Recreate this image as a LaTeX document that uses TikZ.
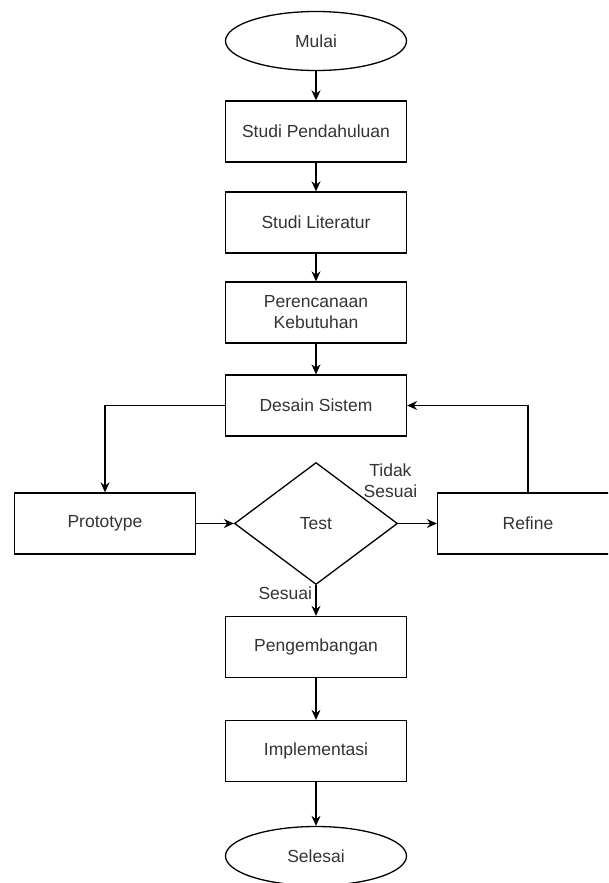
\documentclass[tikz,border=0pt]{standalone}
\usepackage{fontspec}
\setmainfont{Liberation Sans}
\usetikzlibrary{shapes,arrows.meta,positioning}

\begin{document}
\begin{tikzpicture}[x=1pt, y=-1pt, node distance=91pt, auto,
    >={Stealth[length=10pt, width=9pt]}, line width=1.3pt,
    every node/.style={font=\fontsize{17.5}{21}\selectfont, text=black!80},
    terminal/.style={draw, ellipse, minimum width=181pt, minimum height=59pt},
    proses/.style={draw, rectangle, minimum width=181pt, minimum height=61pt, align=center},
    keputusan/.style={draw, diamond, minimum width=163pt, minimum height=122pt, inner sep=0pt}]
    \clip (0,0) rectangle (608,883);
    \node [terminal] (mulai) at (316,41) {Mulai};
    \node [proses, below of=mulai, node distance=90.5pt] (pendahuluan) {Studi Pendahuluan};
    \node [proses, below of=pendahuluan] (literatur) {Studi Literatur};
    \node [proses, below of=literatur, node distance=90pt] (kebutuhan) {Perencanaan\\Kebutuhan};
    \node [proses, below of=kebutuhan, node distance=93pt] (desain) {Desain Sistem};
    \node [keputusan, below of=desain, node distance=118pt] (test) {Test};
    \node [proses, left of=test, node distance=211pt] (prototype) {Prototype};
    \node [proses, right of=test, node distance=212pt] (refine) {Refine};
    \node [proses, below of=test, node distance=123.5pt] (pengembangan) {Pengembangan};
    \node [proses, below of=pengembangan, node distance=104pt] (implementasi) {Implementasi};
    \node [terminal, below of=implementasi, node distance=105pt] (selesai) {Selesai};
    \draw [->] (mulai) -- (pendahuluan);
    \draw [->] (pendahuluan) -- (literatur);
    \draw [->] (literatur) -- (kebutuhan);
    \draw [->] (kebutuhan) -- (desain);
    \draw [->] (desain) -| (prototype);
    \draw [->] (prototype) -- (test);
    \draw [->] (test) -- node [above=22pt, pos=-0.2, align=center] {Tidak\\Sesuai} (refine);
    \draw [->] (refine) |- (desain);
    \draw [->] (test) -- node [left, pos=0.25] {Sesuai} (pengembangan);
    \draw [->] (pengembangan) -- (implementasi);
    \draw [->] (implementasi) -- (selesai);
  \end{tikzpicture}
\end{document}
